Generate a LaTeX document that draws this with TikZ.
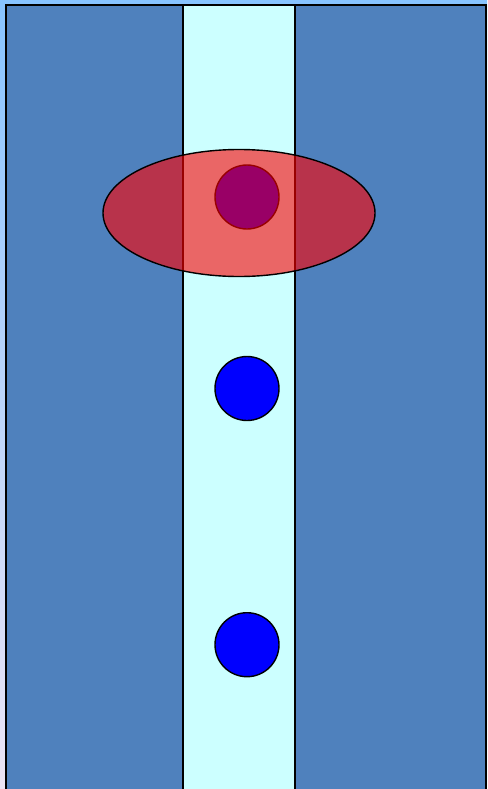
\documentclass[tikz,border=0pt]{standalone}
\usetikzlibrary{shapes.geometric}
\begin{document}
\begin{tikzpicture}[x=1pt,y=-1pt,
  frame/.style={draw=black,line width=1.6pt},
  ball/.style={circle,draw=black,line width=1.4pt,fill=blue,minimum size=64pt,inner sep=0pt}]
\definecolor{bgtop}{RGB}{136,196,255}
\definecolor{bgbot}{RGB}{236,228,244}
\definecolor{outer}{RGB}{79,129,189}
\definecolor{strip}{RGB}{204,255,255}
\useasboundingbox (0,0) rectangle (487,789);
\clip (0,0) rectangle (487,789);
\shade[top color=bgtop,bottom color=bgbot] (0,0) rectangle (487,789);
\path[frame,fill=outer] (6,5) rectangle (486,800);
\path[frame,fill=strip] (183,5) rectangle (295,800);
\node[ball] (c1) at (247,197) {};
\node[ball] (c2) at (247,388.5) {};
\node[ball] (c3) at (247,644.7) {};
\node[ellipse,draw=black,line width=1.4pt,fill=red,fill opacity=0.6,minimum width=272pt,minimum height=127pt,inner sep=0pt] (e) at (239,213) {};
\end{tikzpicture}
\end{document}
